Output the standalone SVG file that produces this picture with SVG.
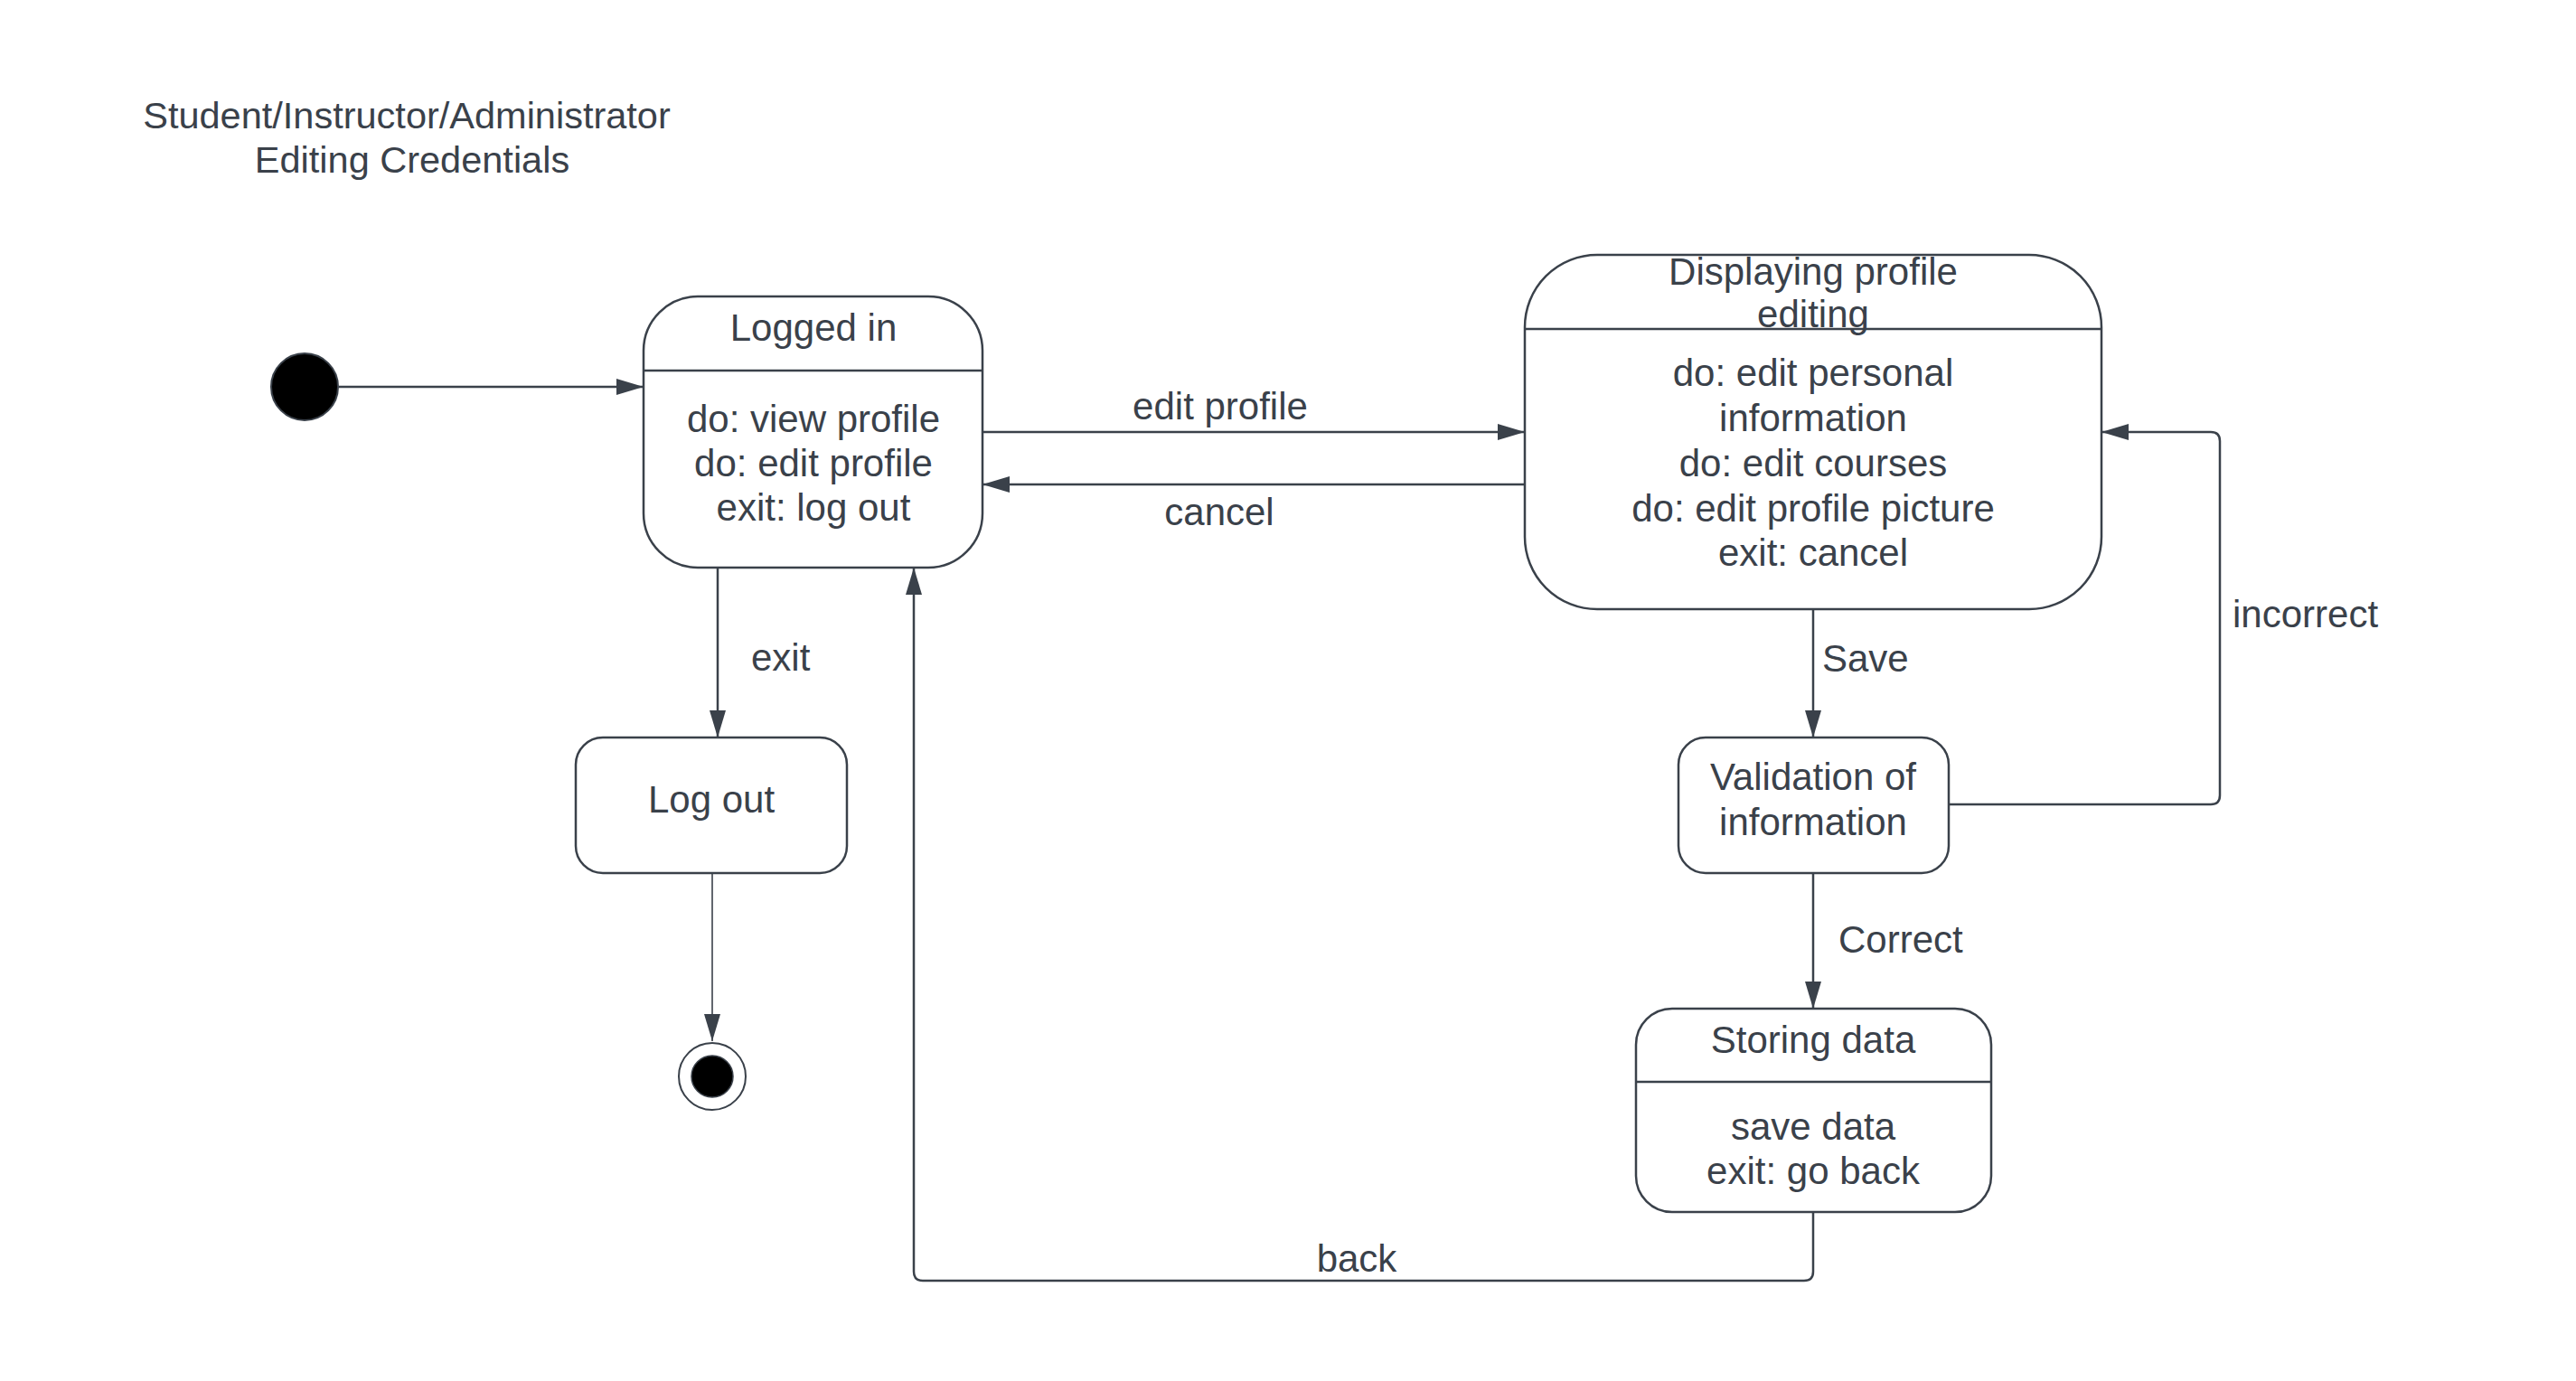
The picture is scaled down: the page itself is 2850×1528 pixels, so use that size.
<svg xmlns="http://www.w3.org/2000/svg" width="2850" height="1528" viewBox="0 0 2850 1528">
<defs>
<marker id="arr" markerUnits="userSpaceOnUse" markerWidth="30" markerHeight="18" refX="30" refY="9" orient="auto">
<path d="M0,0 L30,9 L0,18 Z" fill="#3a414a"/>
</marker>
<style>
.t{font-family:"Liberation Sans",Arial,sans-serif;font-size:42px;fill:#3a414a}
.h{font-size:41.5px}
.m{text-anchor:middle}
.n{fill:#ffffff;stroke:#3a414a;stroke-width:2.5}
.d{stroke:#3a414a;stroke-width:2.5;fill:none}
.c{stroke:#3a414a;stroke-width:2.5;fill:none;marker-end:url(#arr)}
</style>
</defs>
<rect width="2850" height="1528" fill="#ffffff"/>
<g id="title">
<text class="t h m" x="450" y="142">Student/Instructor/Administrator</text>
<text class="t h m" x="456" y="191">Editing Credentials</text>
</g>
<g id="connectors">
<path class="c" d="M375,428 H712"/>
<path class="c" d="M1087,478 H1687"/>
<path class="c" d="M1687,536 H1087"/>
<path class="c" d="M794,628 V816"/>
<path class="c" d="M788,966 V1152" style="stroke-width:1.6"/>
<path class="c" d="M2006,674 V816"/>
<path class="c" d="M2006,966 V1116"/>
<path class="c" d="M2156,890 H2446 Q2456,890 2456,880 V488 Q2456,478 2446,478 H2325"/>
<path class="c" d="M2006,1341 V1407 Q2006,1417 1996,1417 H1021 Q1011,1417 1011,1407 V628"/>
<text class="t m" x="1350" y="464">edit profile</text>
<text class="t m" x="1349" y="581">cancel</text>
<text class="t" x="831" y="742">exit</text>
<text class="t" x="2016" y="743">Save</text>
<text class="t" x="2470" y="694">incorrect</text>
<text class="t" x="2034" y="1054">Correct</text>
<text class="t m" x="1501" y="1407">back</text>
</g>
<g id="initial">
<circle cx="337" cy="428" r="37" fill="#000000" stroke="#3a414a" stroke-width="2"/>
</g>
<g id="logged-in">
<rect class="n" x="712" y="328" width="375" height="300" rx="60" ry="60"/>
<line class="d" x1="712" y1="410" x2="1087" y2="410"/>
<text class="t m" x="900" y="377">Logged in</text>
<text class="t m" x="900" y="478">do: view profile</text>
<text class="t m" x="900" y="527">do: edit profile</text>
<text class="t m" x="900" y="576">exit: log out</text>
</g>
<g id="displaying">
<rect class="n" x="1687" y="282" width="638" height="392" rx="80" ry="80"/>
<line class="d" x1="1687" y1="364" x2="2325" y2="364"/>
<text class="t m" x="2006" y="315">Displaying profile</text>
<text class="t m" x="2006" y="362">editing</text>
<text class="t m" x="2006" y="427">do: edit personal</text>
<text class="t m" x="2006" y="477">information</text>
<text class="t m" x="2006" y="527">do: edit courses</text>
<text class="t m" x="2006" y="577">do: edit profile picture</text>
<text class="t m" x="2006" y="626">exit: cancel</text>
</g>
<g id="validation">
<rect class="n" x="1857" y="816" width="299" height="150" rx="30" ry="30"/>
<text class="t m" x="2006" y="874">Validation of</text>
<text class="t m" x="2006" y="924">information</text>
</g>
<g id="storing">
<rect class="n" x="1810" y="1116" width="393" height="225" rx="40" ry="40"/>
<line class="d" x1="1810" y1="1197" x2="2203" y2="1197"/>
<text class="t m" x="2006" y="1165">Storing data</text>
<text class="t m" x="2006" y="1261">save data</text>
<text class="t m" x="2006" y="1310">exit: go back</text>
</g>
<g id="logout">
<rect class="n" x="637" y="816" width="300" height="150" rx="30" ry="30"/>
<text class="t m" x="787" y="899">Log out</text>
</g>
<g id="final">
<circle cx="788" cy="1191" r="37" fill="#ffffff" stroke="#3a414a" stroke-width="2"/>
<circle cx="788" cy="1191" r="23" fill="#000000" stroke="#3a414a" stroke-width="1.5"/>
</g>
</svg>
